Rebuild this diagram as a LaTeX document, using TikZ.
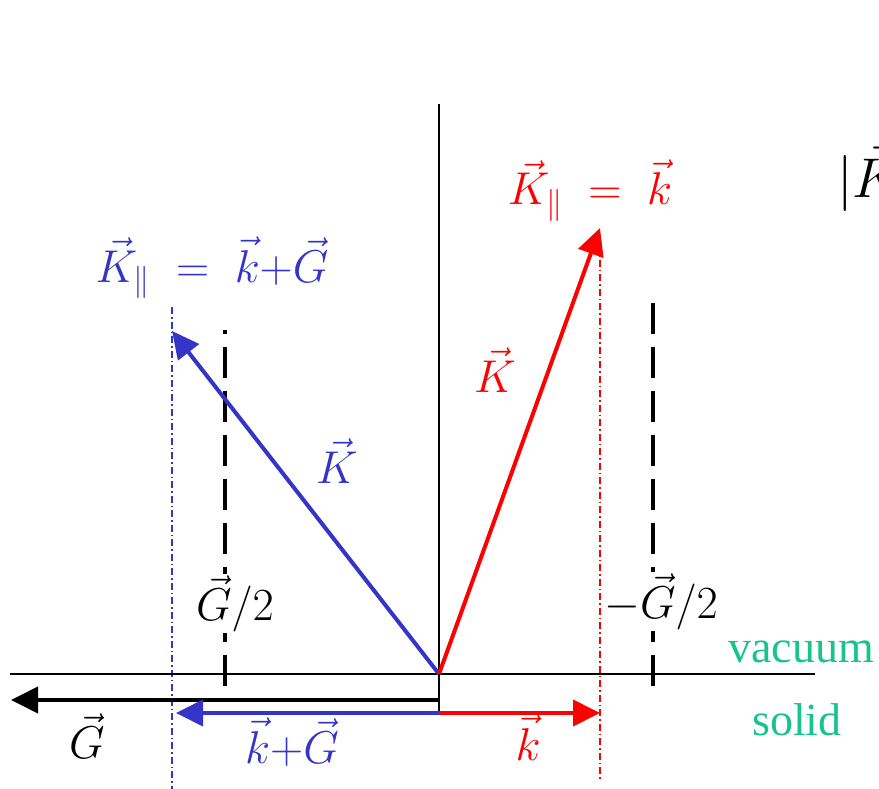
\RequirePackage{fix-cm}
\documentclass[tikz,border=0pt]{standalone}
\usepackage{fontspec}
\newfontfamily\timesfont{Liberation Serif}
\usetikzlibrary{arrows.meta}
\definecolor{kblue}{RGB}{52,52,200}
\definecolor{kred}{RGB}{255,0,0}
\definecolor{kgreen}{RGB}{24,196,140}
\tikzset{
  vec/.style={line width=4pt, -{Triangle[length=27pt,width=26pt]}},
  axis/.style={line width=2pt, black},
  bzdash/.style={line width=4pt, black, dash pattern=on 31pt off 13pt},
  dashdot/.style={line width=1.8pt, dash pattern=on 7pt off 3pt on 1.5pt off 3pt},
  lbl/.style={font=\fontsize{46}{50}\selectfont, inner sep=0pt, anchor=base},
  wlbl/.style={lbl, fill=white, inner sep=2pt},
  medium/.style={font=\fontsize{46}{50}\selectfont\timesfont, text=kgreen, inner sep=0pt, anchor=base}
}
\begin{document}
\begin{tikzpicture}[x=1pt,y=-1pt]
\useasboundingbox (0,0) rectangle (879,789);
% coordinates
\coordinate (O) at (439,674);
\coordinate (Otop) at (439,104);
\coordinate (Obot) at (439,714);
\coordinate (axL) at (10,674);
\coordinate (axR) at (815,674);
\coordinate (Kb) at (172,331);
\coordinate (Kr) at (600,228);
\coordinate (Gs) at (439,700);
\coordinate (Ge) at (11,700);
\coordinate (kGs) at (439,713);
\coordinate (kGe) at (176,713);
\coordinate (ke) at (600,713);
\coordinate (bdT) at (172,307);
\coordinate (bdB) at (172,789);
\coordinate (rdT) at (600,245);
\coordinate (rdB) at (600,780);
\coordinate (zbL1) at (225,330);
\coordinate (zbL2) at (225,687);
\coordinate (zbR1) at (653,303);
\coordinate (zbR2) at (653,687);
% zone boundary dashed lines
\draw[bzdash, dash phase=27pt] (zbL1) -- (zbL2);
\draw[bzdash] (zbR1) -- (zbR2);
% dash-dot guide lines
\draw[dashdot, kblue] (bdT) -- (bdB);
\draw[dashdot, kred] (rdT) -- (rdB);
% axes
\draw[axis] (axL) -- (axR);
\draw[axis] (Otop) -- (Obot);
% vectors
\draw[vec, black] (Gs) -- (Ge);
\draw[vec, kblue] (kGs) -- (kGe);
\draw[vec, kred] (kGs) -- (ke);
\draw[vec, kblue] (O) -- (Kb);
\draw[vec, kred] (O) -- (Kr);
% labels
\node[wlbl] (lG2) at (235,620) {$\vec G/2$};
\node[wlbl] (lmG2) at (661,618) {$-\vec G/2$};
\node[lbl, text=kblue] (lKpb) at (212,282) {$\vec K_{\parallel}\;=\;\vec k{+}\vec G$};
\node[lbl, text=kred] (lKpr) at (590,205) {$\vec K_{\parallel}\;=\;\vec k$};
\node[lbl, text=kblue] (lKb) at (337,483) {$\vec K$};
\node[lbl, text=kred] (lKr) at (495,392) {$\vec K$};
\node[lbl] (lG) at (87,758) {$\vec G$};
\node[lbl, text=kblue] (lkG) at (292,763) {$\vec k{+}\vec G$};
\node[lbl, text=kred] (lk) at (528,760) {$\vec k$};
\node[medium] (vac) at (801,662) {vacuum};
\node[medium] (sol) at (797,735) {solid};
\node[font=\fontsize{56}{60}\selectfont, inner sep=0pt, anchor=base west] (absK) at (837,197) {$|\vec K$};
\end{tikzpicture}
\end{document}
